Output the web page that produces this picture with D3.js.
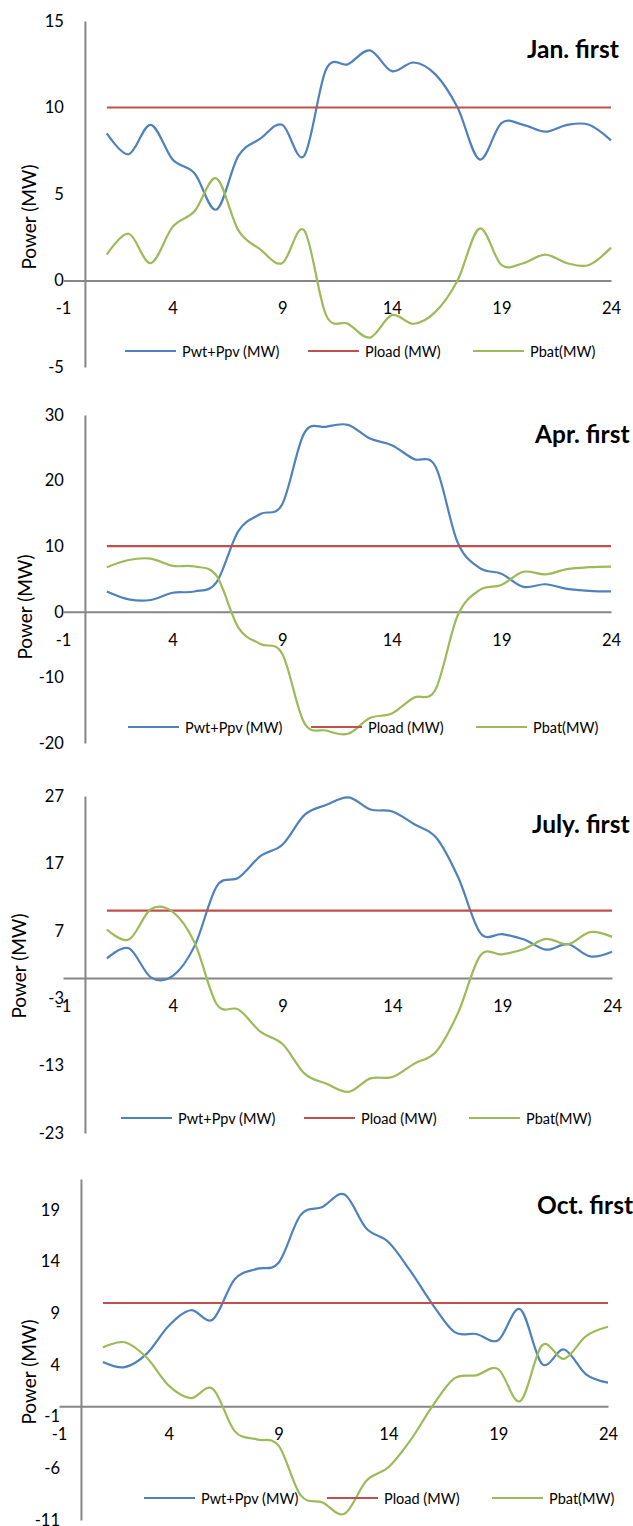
<!DOCTYPE html>
<html>
<head>
<meta charset="utf-8">
<script src="https://cdn.jsdelivr.net/npm/d3@7"></script>
<style>
  body { margin: 0; background: #fff; }
  svg { display: block; }
  text { font-family: Lato, "Open Sans", sans-serif; }
</style>
</head>
<body>
<script>
// hours of the day
const hours = [1, 2, 3, 4, 5, 6, 7, 8, 9, 10, 11, 12, 13, 14, 15, 16, 17, 18, 19, 20, 21, 22, 23, 24];
const load = [10, 10, 10, 10, 10, 10, 10, 10, 10, 10, 10, 10, 10, 10, 10, 10, 10, 10, 10, 10, 10, 10, 10, 10];

// Pwt+Ppv and Pbat per day
const janSupply = [8.5, 7.3, 9.0, 7.0, 6.2, 4.1, 7.2, 8.2, 9.0, 7.2, 12.2, 12.5, 13.3, 12.1, 12.6, 11.9, 10.0, 7.0, 9.1, 9.0, 8.6, 9.0, 9.0, 8.1];
const janBattery = [1.5, 2.7, 1.0, 3.1, 4.0, 5.9, 2.9, 1.8, 1.0, 2.9, -2.0, -2.5, -3.3, -2.0, -2.5, -1.8, 0.0, 3.0, 0.9, 1.0, 1.5, 1.0, 0.9, 1.9];

const aprSupply = [3.1, 1.9, 1.8, 2.9, 3.1, 4.5, 12.3, 14.9, 16.4, 27.2, 28.2, 28.5, 26.4, 25.4, 23.3, 22.1, 10.6, 6.7, 5.8, 3.8, 4.2, 3.5, 3.2, 3.1];
const aprBattery = [6.8, 7.9, 8.1, 7.0, 6.9, 5.5, -2.4, -4.9, -6.4, -16.9, -18.1, -18.6, -16.2, -15.5, -13.1, -11.8, -0.6, 3.3, 4.1, 6.1, 5.7, 6.5, 6.8, 6.9];

const julSupply = [2.9, 4.4, 0.1, 0.3, 4.8, 13.6, 14.9, 18.1, 19.8, 24.2, 25.7, 26.8, 25.0, 24.7, 22.8, 20.8, 14.9, 6.7, 6.5, 5.7, 4.2, 5.0, 3.2, 3.9];
const julBattery = [7.2, 5.7, 10.2, 9.8, 5.2, -3.9, -4.7, -8.0, -9.8, -14.2, -15.7, -16.9, -14.9, -14.7, -12.7, -10.9, -5.1, 3.3, 3.5, 4.3, 5.8, 5.0, 6.8, 6.1];

const octSupply = [4.3, 3.8, 5.1, 7.8, 9.3, 8.4, 12.3, 13.3, 13.9, 18.5, 19.3, 20.5, 17.2, 15.9, 13.1, 9.9, 7.2, 7.0, 6.4, 9.4, 4.1, 5.5, 3.1, 2.3];
const octBattery = [5.7, 6.2, 4.7, 2.0, 0.8, 1.7, -2.4, -3.2, -3.8, -8.6, -9.3, -10.4, -7.2, -5.9, -3.3, 0.0, 2.7, 3.0, 3.6, 0.5, 5.9, 4.6, 6.8, 7.7];

// ticks
const xTicks = [-1, 4, 9, 14, 19, 24];
const janTicks = [-5, 0, 5, 10, 15];
const aprTicks = [-20, -10, 0, 10, 20, 30];
const julTicks = [-23, -13, -3, 7, 17, 27];
const octTicks = [-11, -6, -1, 4, 9, 14, 19];

const seriesNames = ['Pwt+Ppv (MW)', 'Pload (MW)', 'Pbat(MW)'];
const colors = ['#4f81bd', '#c0504d', '#9bbb59'];

const svg = d3.select('body').append('svg')
  .attr('width', 633)
  .attr('height', 1526);

const panels = [
  { title: 'Jan. first', supply: janSupply, battery: janBattery, ticks: janTicks, yMax: 15,
    x0: 63, x1: 611, yBot: 367, yTop: 21, titleX: 527, titleY: 58, labX: 28, labY: 217, legX: 125, legY: 351 },
  { title: 'Apr. first', supply: aprSupply, battery: aprBattery, ticks: aprTicks, yMax: 30,
    x0: 63, x1: 611, yBot: 743, yTop: 415, titleX: 535, titleY: 443, labX: 24, labY: 607, legX: 128, legY: 727 },
  { title: 'July. first', supply: julSupply, battery: julBattery, ticks: julTicks, yMax: 27,
    x0: 63, x1: 612, yBot: 1133, yTop: 796, titleX: 532, titleY: 833, labX: 18, labY: 966, legX: 121, legY: 1118 },
  { title: 'Oct. first', supply: octSupply, battery: octBattery, ticks: octTicks, yMax: 22,
    x0: 59, x1: 608, yBot: 1520, yTop: 1179, titleX: 537, titleY: 1214, labX: 28, labY: 1372, legX: 144, legY: 1498 }
];

panels.forEach(p => drawPanel(p));

function drawPanel(p) {
  const g = svg.append('g');
  const x = d3.scaleLinear().domain([-1, 24]).range([p.x0, p.x1]);
  const y = d3.scaleLinear().domain([p.ticks[0], p.yMax]).range([p.yBot, p.yTop]);
  const fmt = d => String(d);

  // axes
  const yAxis = g.append('g')
    .attr('transform', `translate(${x(0)},0)`)
    .call(d3.axisLeft(y).tickValues(p.ticks).tickFormat(fmt).tickSize(0).tickPadding(21));
  const xAxis = g.append('g')
    .attr('transform', `translate(0,${y(0)})`)
    .call(d3.axisBottom(x).tickValues(xTicks).tickFormat(fmt).tickSize(0).tickPadding(22));

  [yAxis, xAxis].forEach(a => {
    a.attr('font-family', null).attr('font-size', null);
    a.select('.domain').attr('stroke', '#868686').attr('stroke-width', 2);
    a.selectAll('text').attr('font-size', '16.5px').attr('fill', '#000');
  });

  // series
  const line = d3.line()
    .x((d, i) => x(hours[i]))
    .y(d => y(d))
    .curve(d3.curveCardinal.tension(0));

  [p.supply, load, p.battery].forEach((vals, k) => {
    g.append('path')
      .datum(vals)
      .attr('d', line)
      .attr('fill', 'none')
      .attr('stroke', colors[k])
      .attr('stroke-width', 2.2);
  });

  // axis title
  g.append('text')
    .attr('transform', `translate(${p.labX},${p.labY}) rotate(-90)`)
    .attr('text-anchor', 'middle')
    .attr('dominant-baseline', 'central')
    .attr('font-size', '19px')
    .text('Power (MW)');

  // chart title
  g.append('text')
    .attr('x', p.titleX)
    .attr('y', p.titleY)
    .attr('font-size', '24.5px')
    .attr('font-weight', 'bold')
    .text(p.title);

  // legend
  const offsets = [0, 183, 348];
  seriesNames.forEach((name, k) => {
    const lx = p.legX + offsets[k];
    g.append('line')
      .attr('x1', lx).attr('x2', lx + 51)
      .attr('y1', p.legY).attr('y2', p.legY)
      .attr('stroke', colors[k])
      .attr('stroke-width', 2.2);
    g.append('text')
      .attr('x', lx + 57)
      .attr('y', p.legY)
      .attr('dominant-baseline', 'central')
      .attr('font-size', '14.5px')
      .text(name);
  });
}
</script>
</body>
</html>
